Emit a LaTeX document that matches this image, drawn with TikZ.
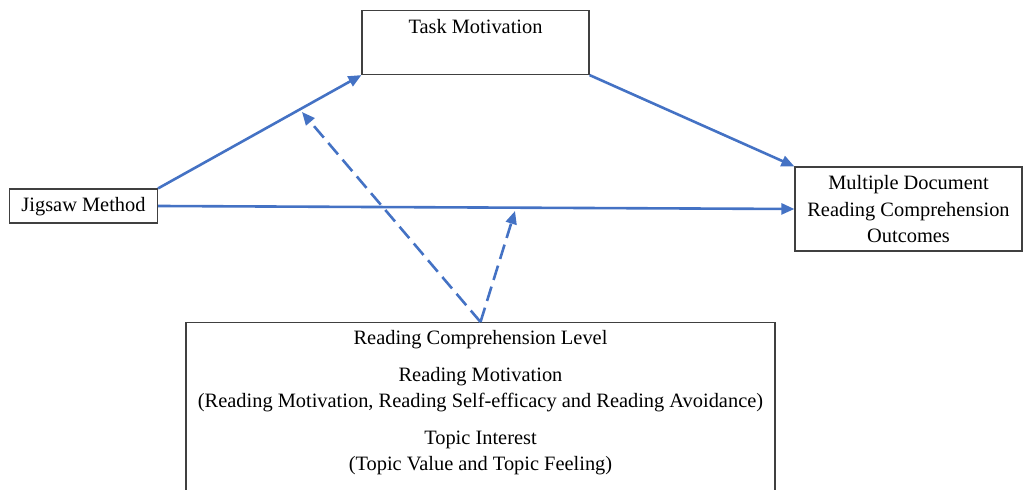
\documentclass[tikz,border=0pt]{standalone}
\usepackage{fontspec}
\setmainfont{Liberation Serif}
\usetikzlibrary{arrows.meta}
\definecolor{pathblue}{HTML}{4472C4}
\definecolor{boxline}{HTML}{404040}
\begin{document}
\begin{tikzpicture}[x=0.5pt,y=-0.5pt,
  every node/.style={font=\fontsize{10.2pt}{12.5pt}\selectfont},
  box/.style={draw=boxline, line width=0.6pt, fill=white, inner sep=0pt},
  lbl/.style={anchor=base, inner sep=0pt},
  link/.style={draw=pathblue, line width=1.3pt,
    -{Triangle[length=6.5pt,width=5.5pt]}},
  modlink/.style={link, dash pattern=on 7.5pt off 3.5pt}]
\useasboundingbox (0,0) rectangle (1023,490);

% boxes
\node[box, minimum width=113.5pt, minimum height=32pt] (task) at (475.5,42.5) {};
\node[lbl] (tasktxt) at (475.5,34) {Task Motivation};

\node[box, minimum width=74pt, minimum height=17pt] (jig) at (83.5,206) {};
\node[lbl] (jigtxt) at (83.5,212) {Jigsaw Method};

\node[box, minimum width=113.5pt, minimum height=42pt] (out) at (908.5,209) {};
\node[lbl] (out1) at (908.5,190) {Multiple Document};
\node[lbl] (out2) at (908.5,216.5) {Reading Comprehension};
\node[lbl] (out3) at (908.5,243) {Outcomes};

\node[box, minimum width=294.5pt, minimum height=90pt, anchor=north] (mod) at (480.5,322) {};
\node[lbl] (mod1) at (480.5,345) {Reading Comprehension Level};
\node[lbl] (mod2) at (480.5,382) {Reading Motivation};
\node[lbl] (mod3) at (480.5,407.5) {(Reading Motivation, Reading Self-efficacy and Reading Avoidance)};
\node[lbl] (mod4) at (480.5,445) {Topic Interest};
\node[lbl] (mod5) at (480.5,471) {(Topic Value and Topic Feeling)};

% moderation targets on the two paths
\coordinate (onA) at (302,112);
\coordinate (onC) at (515,211);

% paths
\draw[link] (jig.north east) -- (task.south west);
\draw[link] (task.south east) -- (out.north west);
\draw[link] (jig.east) -- (out.west);
\draw[modlink] (mod.north) -- (onA);
\draw[modlink] (mod.north) -- (onC);
\end{tikzpicture}
\end{document}
